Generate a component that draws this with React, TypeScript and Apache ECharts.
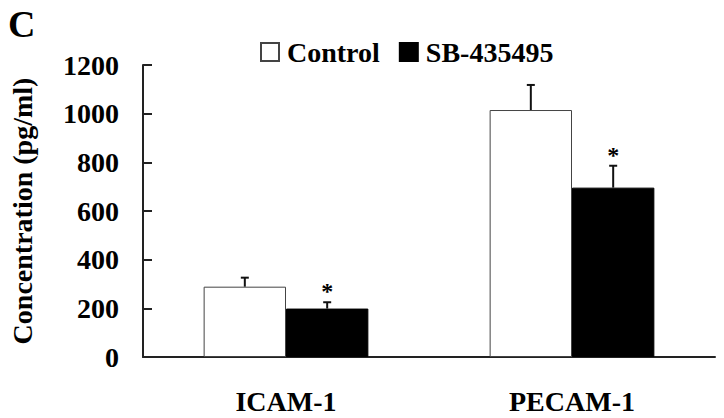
import React, { useEffect, useRef } from "react";
import * as echarts from "echarts";

const categories = ["ICAM-1", "PECAM-1"];
const controlMean = [289, 1015];
const controlErr = [37, 103];
const sbMean = [199, 696];
const sbErr = [26, 90];
const sbSignificant = [true, true];
const yTicks = { min: 0, max: 1200, interval: 200 };

const FONT = "'Liberation Serif', 'Times New Roman', serif";
const BAR_FRAC = 0.288;

function errorSeries(name: string, means: number[], errs: number[], sig: boolean[], side: number) {
  return {
    name,
    type: "custom",
    z: 5,
    clip: false,
    data: means.map((m, i) => [i, m, errs[i], sig[i] ? 1 : 0]),
    renderItem: (params: any, api: any) => {
      const idx = api.value(0);
      const mean = api.value(1);
      const err = api.value(2);
      const s = api.value(3);
      const bw = api.size([1, 0])[0] * BAR_FRAC;
      const base = api.coord([idx, mean]);
      const top = api.coord([idx, mean + err]);
      const x = base[0] + (side * bw) / 2;
      const children: any[] = [
        {
          type: "line",
          shape: { x1: x, y1: base[1], x2: x, y2: top[1] },
          style: { stroke: "#111", lineWidth: 2 },
        },
        {
          type: "line",
          shape: { x1: x - 4, y1: top[1], x2: x + 4, y2: top[1] },
          style: { stroke: "#111", lineWidth: 2 },
        },
      ];
      if (s) {
        children.push({
          type: "text",
          style: {
            text: "*",
            x,
            y: top[1] - 11,
            align: "center",
            verticalAlign: "middle",
            font: `bold 24px ${FONT}`,
            fill: "#000",
          },
        });
      }
      return { type: "group", children };
    },
  };
}

export default function App() {
  const ref = useRef<HTMLDivElement>(null);
  useEffect(() => {
    if (!ref.current) return;
    const chart = echarts.init(ref.current, null, { renderer: "svg" });
    chart.setOption({
      animation: false,
      backgroundColor: "#fff",
      graphic: [
        {
          type: "text",
          left: 8,
          top: 5,
          style: { text: "C", font: `bold 38px ${FONT}`, fill: "#000" },
        },
      ],
      legend: {
        data: ["Control", "SB-435495"],
        left: 260,
        top: 38,
        padding: 0,
        icon: "rect",
        itemWidth: 18,
        itemHeight: 18,
        itemGap: 19,
        textStyle: {
          fontFamily: FONT,
          fontWeight: "bold",
          fontSize: 28,
          color: "#000",
          padding: [0, 0, 0, 3],
        },
      },
      grid: { left: 132, right: 9, top: 65, bottom: 61, containLabel: false },
      xAxis: {
        type: "category",
        data: categories,
        axisLine: { lineStyle: { color: "#222", width: 2 } },
        axisTick: { inside: true, length: 9, lineStyle: { color: "#222", width: 2 } },
        axisLabel: {
          margin: 30,
          fontFamily: FONT,
          fontWeight: "bold",
          fontSize: 28,
          color: "#000",
        },
      },
      yAxis: {
        type: "value",
        min: yTicks.min,
        max: yTicks.max,
        interval: yTicks.interval,
        name: "Concentration (pg/ml)",
        nameLocation: "middle",
        nameRotate: 90,
        nameGap: 107,
        nameTextStyle: {
          fontFamily: FONT,
          fontWeight: "bold",
          fontSize: 28,
          color: "#000",
        },
        splitLine: { show: false },
        axisLine: { show: true, lineStyle: { color: "#222", width: 2 } },
        axisTick: { show: true, inside: true, length: 9, lineStyle: { color: "#222", width: 2 } },
        axisLabel: {
          margin: 24,
          formatter: (v: number) => String(v),
          fontFamily: FONT,
          fontWeight: "bold",
          fontSize: 28,
          color: "#000",
        },
      },
      series: [
        {
          name: "Control",
          type: "bar",
          data: controlMean,
          barWidth: `${BAR_FRAC * 100}%`,
          barGap: "0%",
          itemStyle: { color: "#fff", borderColor: "#444", borderWidth: 1 },
        },
        {
          name: "SB-435495",
          type: "bar",
          data: sbMean,
          barWidth: `${BAR_FRAC * 100}%`,
          barGap: "0%",
          itemStyle: { color: "#000", borderColor: "#000", borderWidth: 1 },
        },
        errorSeries("ControlErr", controlMean, controlErr, [false, false], -1),
        errorSeries("SBErr", sbMean, sbErr, sbSignificant, 1),
      ],
    });
    return () => chart.dispose();
  }, []);
  return <div ref={ref} style={{ width: 724, height: 418, position: "absolute", left: 0, top: 0 }} />;
}
